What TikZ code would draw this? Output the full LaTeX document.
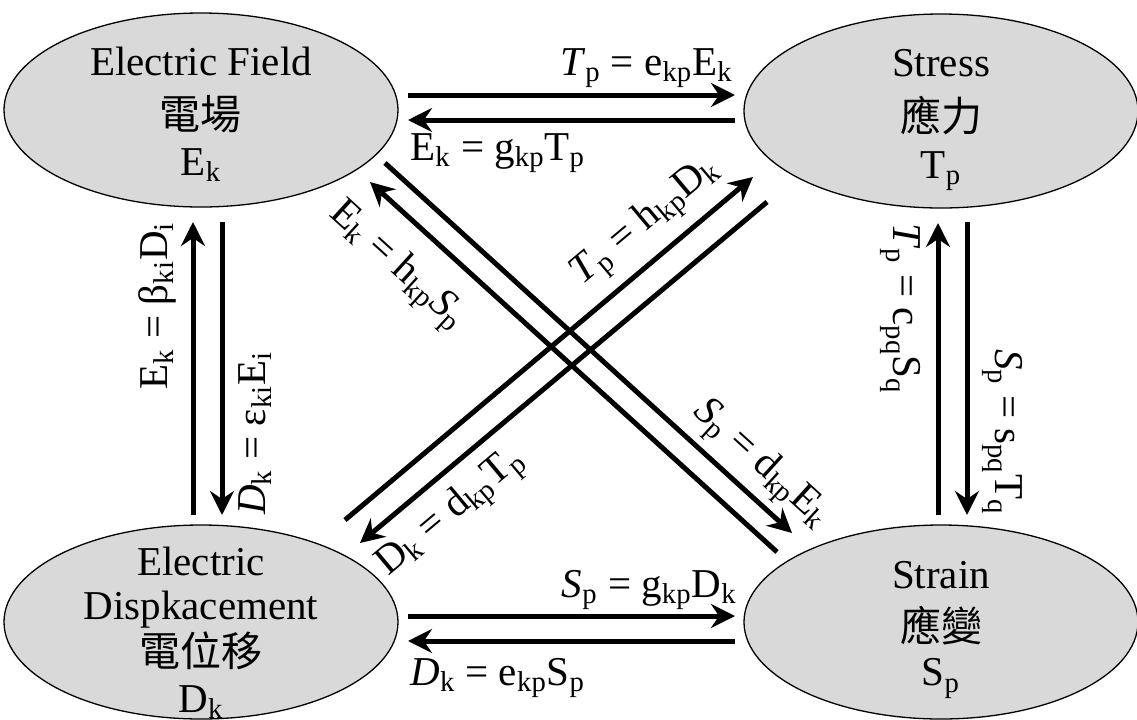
\documentclass[tikz,border=0pt]{standalone}
\usepackage{fontspec}
\setmainfont{Liberation Serif}
\newfontfamily\cjk{Noto Sans CJK TC}
\usetikzlibrary{shapes.geometric,arrows.meta}
\definecolor{stategray}{RGB}{217,217,217}
\newcommand{\subs}[1]{\textsubscript{#1}}
\tikzset{
  state/.style={ellipse, draw=black, line width=0.65pt, fill=stategray,
    minimum width=197pt, minimum height=97pt, inner sep=0pt},
  statetext/.style={align=center, inner sep=0pt, font=\fontsize{20.5}{#1}\selectfont},
  arr/.style={line width=2.5pt, -{Stealth[length=12pt,width=12pt,inset=4pt]}},
  eq/.style={inner sep=0pt, font=\fontsize{20.5}{25}\selectfont},
}
\begin{document}
\begin{tikzpicture}[x=0.5pt,y=-0.5pt]
    \useasboundingbox (0,0) rectangle (1137,719);
    % stati
    \node[state] (field) at (201,110) {};
    \node[state] (stress) at (941,111) {};
    \node[state] (disp) at (201,622) {};
    \node[state] (strain) at (941,622) {};
    \node[statetext=25] (fieldtxt) at (201,114) {Electric Field\\[2pt]{\cjk 電場}\\[-2pt]E\subs{k}};
    \node[statetext=25.5] (stresstxt) at (941,120) {Stress\\[2pt]{\cjk 應力}\\[-2pt]T\subs{p}};
    \node[statetext=22.85] (disptxt) at (201,633) {Electric\\[-1pt]Dispkacement\\[1pt]{\cjk 電位移}\\D\subs{k}};
    \node[statetext=24.25] (straintxt) at (941,630) {Strain\\[2pt]{\cjk 應變}\\[-2pt]S\subs{p}};
    % estremi delle frecce
    \coordinate (fs-a) at (408,95);   \coordinate (fs-b) at (735,95);
    \coordinate (sf-a) at (735,120);  \coordinate (sf-b) at (408,120);
    \coordinate (ds-a) at (408,616);  \coordinate (ds-b) at (735,616);
    \coordinate (sd-a) at (735,641);  \coordinate (sd-b) at (408,641);
    \coordinate (df-a) at (193,515);  \coordinate (df-b) at (193,222);
    \coordinate (fd-a) at (222,222);  \coordinate (fd-b) at (222,515);
    \coordinate (st-a) at (938,515);  \coordinate (st-b) at (938,223);
    \coordinate (ts-a) at (967,222);  \coordinate (ts-b) at (967,515);
    \coordinate (fx-a) at (385,163);  \coordinate (fx-b) at (792,533);
    \coordinate (xf-a) at (777,552);  \coordinate (xf-b) at (370,182);
    \coordinate (dx-a) at (345,520);  \coordinate (dx-b) at (753,177);
    \coordinate (xd-a) at (767,202);  \coordinate (xd-b) at (360,543);
    % frecce
    \foreach \a in {fs,sf,ds,sd,df,fd,st,ts,fx,xf,dx,xd} {
      \draw[arr] (\a-a) -- (\a-b);
    }
    % relazioni
    \node[eq, anchor=base east] (fslab) at (733,75) {\textit{T}\subs{p} = e\subs{kp}E\subs{k}};
    \node[eq, anchor=base west] (sflab) at (410,160) {E\subs{k} = g\subs{kp}T\subs{p}};
    \node[eq, anchor=base east] (dslab) at (737,597) {\textit{S}\subs{p} = g\subs{kp}D\subs{k}};
    \node[eq, anchor=base west] (sdlab) at (410,685) {\textit{D}\subs{k} = e\subs{kp}S\subs{p}};
    \node[eq, rotate=90, anchor=base east] (dflab) at (167,222) {E\subs{k} = β\subs{ki}D\subs{i}};
    \node[eq, rotate=90, anchor=base west] (fdlab) at (265,515) {\textit{D}\subs{k} = ε\subs{ki}E\subs{i}};
    \node[eq, rotate=-90, anchor=base west] (stlab) at (893,223) {\textit{T}\subs{p} = c\subs{pq}S\subs{q}};
    \node[eq, rotate=-90, anchor=base east] (tslab) at (995,515) {\textit{S}\subs{p} = s\subs{pq}T\subs{q}};
    \node[eq, rotate=-42.3, anchor=base west] (xflab) at (328,215) {E\subs{k} = h\subs{kp}\textit{S}\subs{p}};
    \node[eq, rotate=40, anchor=base west] (dxlab) at (582,286) {\textit{T}\subs{p} = h\subs{kp}D\subs{k}};
    \node[eq, rotate=-42.3, anchor=base west] (fxlab) at (692,413) {\textit{S}\subs{p} = d\subs{kp}E\subs{k}};
    \node[eq, rotate=40, anchor=base west] (xdlab) at (388,577) {D\subs{k} = d\subs{kp}T\subs{p}};
\end{tikzpicture}
\end{document}
